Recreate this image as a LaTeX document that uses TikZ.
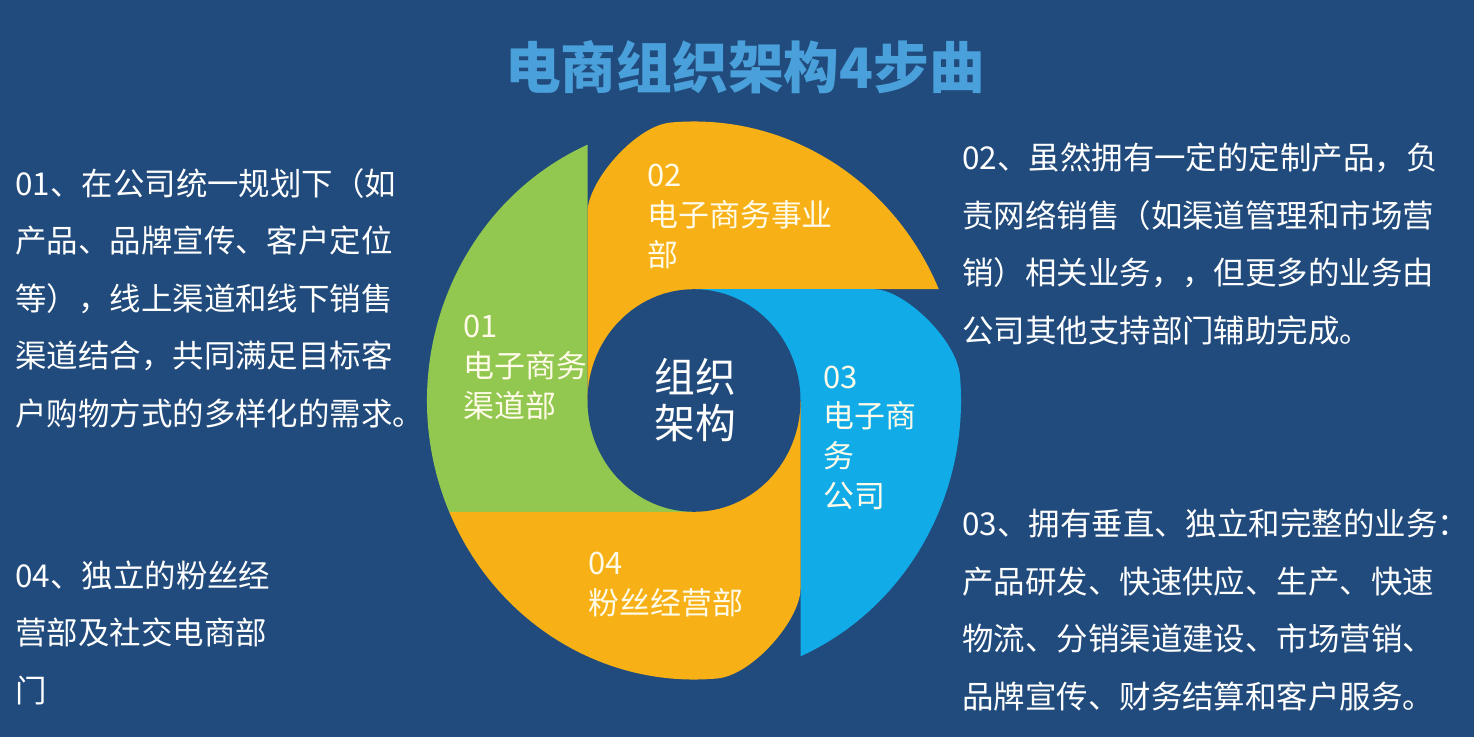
\documentclass[tikz,border=0pt]{standalone}
\usepackage{fontspec}
\setmainfont{Noto Sans CJK SC}
\usepackage{tikz}
\definecolor{cback}{RGB}{33,75,124}
\definecolor{cgreen}{RGB}{146,199,80}
\definecolor{corange}{RGB}{247,176,22}
\definecolor{cblue}{RGB}{17,172,232}
\definecolor{ctitle}{RGB}{74,160,218}
\definecolor{ccream}{RGB}{255,251,232}
\tikzset{
x=0.02cm, y=-0.02cm,
Petal/.style={
	draw=none
},
GreenPetal/.style={
	Petal,
	fill=cgreen
},
OrangePetal/.style={
	Petal,
	fill=corange
},
BluePetal/.style={
	Petal,
	fill=cblue
},
Title/.style={
	inner sep=0pt,
	text=ctitle,
	font=\fontsize{31.7}{36}\selectfont\bfseries
},
Body/.style={
	anchor=base west,
	align=left,
	inner sep=0pt,
	text=white,
	font=\fontsize{17.9}{32.7}\selectfont
},
Label/.style={
	anchor=base west,
	align=left,
	inner sep=0pt,
	text=ccream,
	font=\fontsize{17.6}{22.5}\selectfont
},
Hub/.style={
	align=center,
	inner sep=0pt,
	text=white,
	font=\fontsize{23.2}{26.6}\selectfont
}
}

\begin{document}
\begin{tikzpicture}
	\fill[cback] (0,0) rectangle (1474,737);
	\useasboundingbox (0,0) rectangle (1474,737);

	% four petals round the hole
	\begin{scope}[shift={(694,400.5)}, yscale=1.045]
		\fill[GreenPetal] (-106.5,-244.84) -- (-106.5,0) -- (0,0) -- (0,106.5) -- (-244.84,106.5)
			arc[start angle=156.5, end angle=246.5, radius=267] -- cycle;
		\fill[OrangePetal] (244.84,-106.5) -- (0,-106.5) -- (0,0) -- (-106.5,0) -- (-106.5,-180)
			.. controls (-106.5,-210) and (-58.2,-263) .. (-23.3,-266)
			arc[start angle=265, end angle=336.5, radius=267] -- cycle;
		\fill[BluePetal] (106.5,244.84) -- (106.5,0) -- (0,0) -- (0,-106.5) -- (180,-106.5)
			.. controls (210,-106.5) and (263,-58.2) .. (266,-23.3)
			arc[start angle=-5, end angle=66.5, radius=267] -- cycle;
		\fill[OrangePetal] (-244.84,106.5) -- (0,106.5) -- (0,0) -- (106.5,0) -- (106.5,180)
			.. controls (106.5,210) and (58.2,263) .. (23.3,266)
			arc[start angle=85, end angle=156.5, radius=267] -- cycle;
		\fill[cback] (0,0) circle[radius=106.5];
	\end{scope}

	\node[Title] (title) at (745,67) {电商组织架构4步曲};
	\node[Hub] (hub) at (695,400) {组织\\架构};

	% base = last line
	\node[Label] (name01) at (463,417) {01\\电子商务\\渠道部};
	\node[Label] (name02) at (647,266) {02\\电子商务事业\\部};
	\node[Label] (name03) at (823,507) {03\\电子商\\务\\公司};
	\node[Label] (name04) at (588,614) {04\\粉丝经营部};

	\node[Body] (step01) at (15,425) {01、在公司统一规划下（如\\产品、品牌宣传、客户定位\\等），线上渠道和线下销售\\渠道结合，共同满足目标客\\户购物方式的多样化的需求。};
	\node[Body] (step04) at (15,702) {04、独立的粉丝经\\营部及社交电商部\\门};
	\node[Body] (step02) at (962,342) {02、虽然拥有一定的定制产品，负\\责网络销售（如渠道管理和市场营\\销）相关业务，，但更多的业务由\\公司其他支持部门辅助完成。};
	\node[Body] (step03) at (962,708) {03、拥有垂直、独立和完整的业务：\\产品研发、快速供应、生产、快速\\物流、分销渠道建设、市场营销、\\品牌宣传、财务结算和客户服务。};
\end{tikzpicture}
\end{document}
